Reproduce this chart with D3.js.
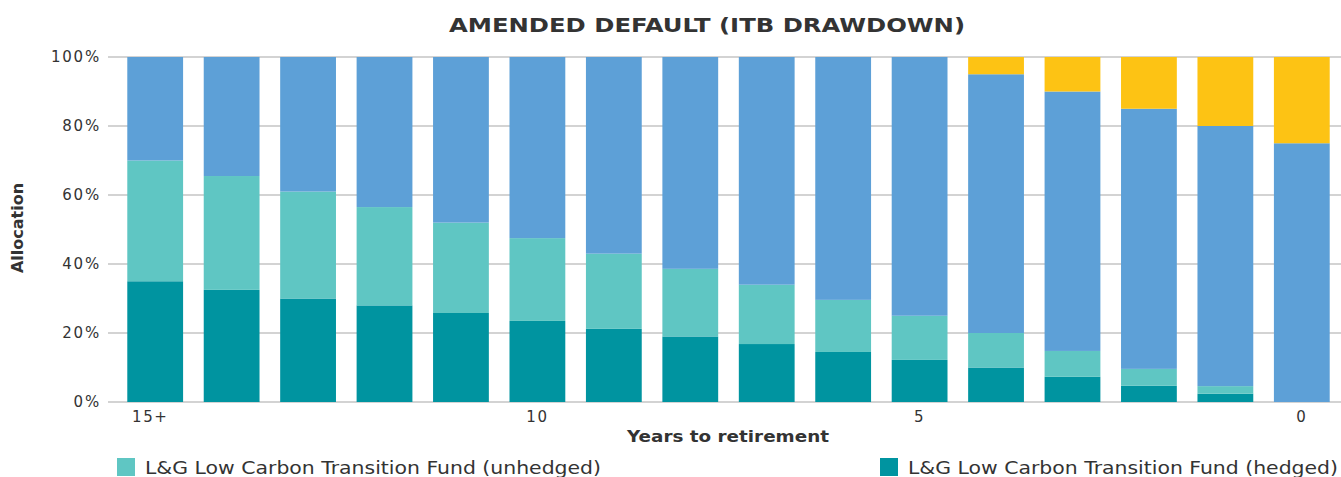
<!DOCTYPE html>
<html>
<head>
<meta charset="utf-8">
<script src="https://cdn.jsdelivr.net/npm/d3@7"></script>
<style>
  body { margin: 0; background: #fff; }
  svg text { font-family: "DejaVu Sans", sans-serif; fill: #333; }
</style>
</head>
<body>
<div id="chart"></div>
<script>
// years to retirement, 15+ down to 0
var years = ["15+", "14", "13", "12", "11", "10", "9", "8", "7", "6", "5", "4", "3", "2", "1", "0"];
var tickYears = ["15+", "10", "5", "0"];

// allocation in % per fund
var hedged   = [35, 32.5, 30, 28, 25.8, 23.5, 21.2, 19, 16.8, 14.5, 12.2, 10, 7.3, 4.7, 2.4, 0];
var unhedged = [35, 33, 31, 28.5, 26.2, 24, 21.8, 19.6, 17.2, 15.1, 12.8, 10, 7.5, 4.9, 2.2, 0];
var blue     = [30, 34.5, 39, 43.5, 48, 52.5, 57, 61.4, 66, 70.4, 75, 75, 75.2, 75.4, 75.4, 75];
var yellow   = [0, 0, 0, 0, 0, 0, 0, 0, 0, 0, 0, 5, 10, 15, 20, 25];

var keys = ["hedged", "unhedged", "blue", "yellow"];
var colors = { hedged: "#0094a0", unhedged: "#5fc6c3", blue: "#5da0d7", yellow: "#fdc314" };

var rows = years.map(function (y, i) {
    return { year: y, hedged: hedged[i], unhedged: unhedged[i], blue: blue[i], yellow: yellow[i] };
});

var W = 1341, H = 477;
var svg = d3.select("#chart").append("svg")
    .attr("width", W)
    .attr("height", H);

var plotLeft = 108, plotRight = 1341, plotTop = 57, plotBottom = 402;

var x = d3.scaleBand()
    .domain(years)
    .range([112, 1345])
    .paddingInner(0.27)
    .paddingOuter(0.2);

var y = d3.scaleLinear()
    .domain([0, 100])
    .range([plotBottom, plotTop]);

// gridlines
svg.append("g")
    .selectAll("line")
    .data(y.ticks(5))
    .enter()
    .append("line")
    .attr("x1", plotLeft)
    .attr("x2", plotRight)
    .attr("y1", d => y(d))
    .attr("y2", d => y(d))
    .attr("stroke", "#c4c4c4")
    .attr("stroke-width", 1.3);

// y tick labels
var yAxis = svg.append("g")
    .attr("transform", "translate(" + plotLeft + ",0)")
    .call(d3.axisLeft(y).ticks(5).tickFormat(d => d + "%").tickSize(0).tickPadding(7));
yAxis.select(".domain").remove();
yAxis.selectAll("text").attr("font-size", 15).style("letter-spacing", "1.8px");

var stack = d3.stack().keys(keys)(rows);

svg.append("g")
    .selectAll("g")
    .data(stack)
    .enter()
    .append("g")
    .attr("fill", d => colors[d.key])
    .selectAll("rect")
    .data(d => d)
    .enter()
    .append("rect")
    .attr("x", d => x(d.data.year))
    .attr("width", x.bandwidth())
    .attr("y", d => y(d[1]))
    .attr("height", d => y(d[0]) - y(d[1]));

// x tick labels
var xAxis = svg.append("g")
    .attr("transform", "translate(0," + plotBottom + ")")
    .call(d3.axisBottom(x).tickValues(tickYears).tickSize(0).tickPadding(9));
xAxis.select(".domain").remove();
xAxis.selectAll("text").attr("font-size", 15).style("letter-spacing", "1.5px");
xAxis.selectAll("text").filter(d => d == "15+").attr("dx", -5);

// title
svg.append("text")
    .attr("x", 707)
    .attr("y", 32)
    .attr("text-anchor", "middle")
    .attr("font-size", 19)
    .attr("font-weight", "bold")
    .attr("textLength", 516)
    .attr("lengthAdjust", "spacingAndGlyphs")
    .text("AMENDED DEFAULT (ITB DRAWDOWN)");

// axis titles
svg.append("text")
    .attr("x", 728)
    .attr("y", 442)
    .attr("text-anchor", "middle")
    .attr("font-size", 16)
    .attr("font-weight", "bold")
    .attr("textLength", 202)
    .attr("lengthAdjust", "spacingAndGlyphs")
    .text("Years to retirement");

svg.append("text")
    .attr("transform", "translate(23,228) rotate(-90)")
    .attr("text-anchor", "middle")
    .attr("font-size", 16)
    .attr("font-weight", "bold")
    .text("Allocation");

// legend (only the two entries visible in the frame)
var legendItems = [
    { label: "L&G Low Carbon Transition Fund (unhedged)", key: "unhedged", x: 117, w: 456 },
    { label: "L&G Low Carbon Transition Fund (hedged)", key: "hedged", x: 880, w: 430 }
];
var lg = svg.append("g")
    .selectAll("g")
    .data(legendItems)
    .enter()
    .append("g")
    .attr("transform", d => "translate(" + d.x + ",458)");
lg.append("rect")
    .attr("width", 18)
    .attr("height", 18)
    .attr("fill", d => colors[d.key]);
lg.append("text")
    .attr("x", 28)
    .attr("y", 16)
    .attr("font-size", 17)
    .attr("textLength", d => d.w)
    .attr("lengthAdjust", "spacingAndGlyphs")
    .text(d => d.label);
</script>
</body>
</html>
